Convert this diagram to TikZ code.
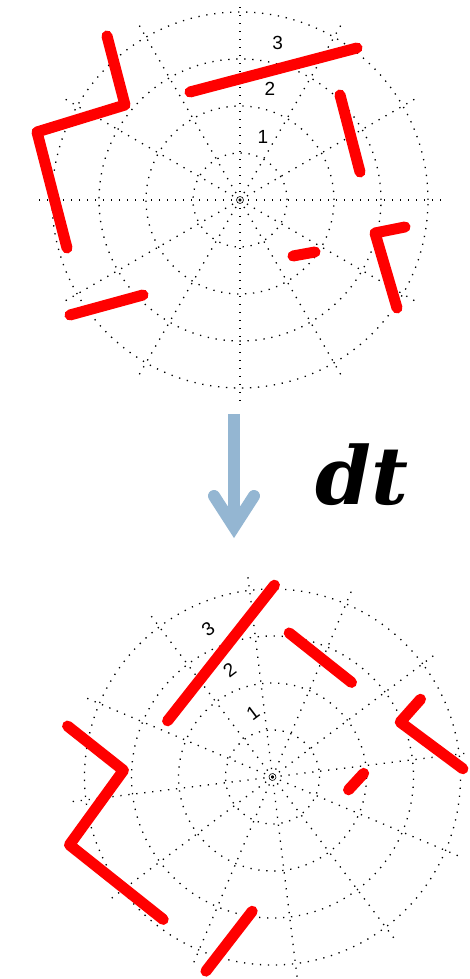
\documentclass[tikz,border=0pt]{standalone}
\usepackage{fontspec}
\setsansfont{Liberation Sans}
\newfontfamily\dtfont{DejaVu Serif}

\definecolor{arrowblue}{RGB}{148,182,210}

\tikzset{
    griddot/.style={black, line width=1.3pt, dash pattern=on 1.3pt off 6.7pt},
    wall/.style={red, line width=11pt, line cap=round, line join=round},
    ringlabel/.style={font=\sffamily\fontsize{19}{19}\selectfont, inner sep=0pt},
    flow/.style={arrowblue, line width=12pt},
}

% polar grid with the walls, drawn round (0,0); #1 = prefix for names
\newcommand{\polarscene}[1]{%
    % rings and spokes
    \foreach \r in {47,94,141,188} {
        \draw[griddot] (0,0) circle (\r);
    }
    \foreach \a in {0,30,...,330} {
        \draw[griddot] (0,0) -- (\a:205);
    }
    \draw[black, line width=0.6pt] (0,0) circle (3.5);
    % ring labels
    \node[ringlabel] (#1-one) at (23,63) {1};
    \node[ringlabel] (#1-two) at (30,111) {2};
    \node[ringlabel] (#1-three) at (37.7,157) {3};
    % walls
    \draw[wall] (-133,164) -- (-115,95) -- (-203,68) -- (-173,-48);
    \draw[wall] (-50,108) -- (117,152);
    \draw[wall] (100,105) -- (120,28);
    \draw[wall] (53,-56) -- (75,-52);
    \draw[wall] (165,-27) -- (135,-33) -- (157,-108);
    \draw[wall] (-170,-115) -- (-97,-95);
}

\begin{document}
\begin{tikzpicture}[x=1pt, y=1pt]
    \clip (0,0) rectangle (470,979);

    % before
    \begin{scope}[shift={(240,779)}]
        \polarscene{top}
    \end{scope}

    % time step arrow
    \coordinate (shafttop) at (234,565);
    \coordinate (tip) at (234,452);
    \draw[flow] (shafttop) -- (tip);
    \draw[flow, line cap=round, line join=miter] (214,483) -- (tip) -- (254,483);
    \node[font=\dtfont\bfseries\itshape\fontsize{80}{80}\selectfont, anchor=base, inner sep=0pt] (dt) at (362,474) {dt};

    % after, turned by the step
    \begin{scope}[shift={(272.5,202)}, rotate=37, transform shape]
        \polarscene{bot}
    \end{scope}
\end{tikzpicture}
\end{document}
